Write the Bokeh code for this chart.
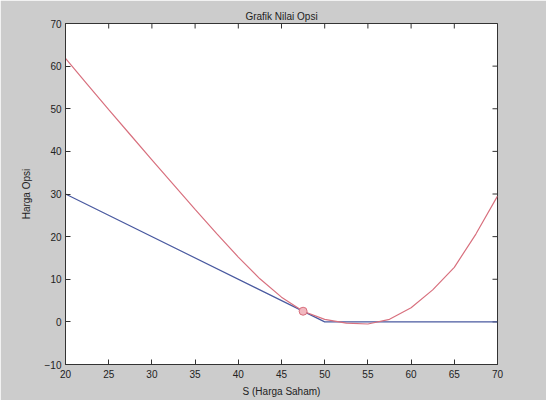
import math
from bokeh.plotting import figure
from bokeh.models import FixedTicker, Range1d
from bokeh.embed import file_html
from bokeh.resources import INLINE

# Data
s_payoff = [20, 50, 70]
v_payoff = [30, 0, 0]

s_value = [20, 22.5, 25, 27.5, 30, 32.5, 35, 37.5, 40, 42.5, 45, 47.5,
           50, 52.5, 55, 57.5, 60, 62.5, 65, 67.5, 70]
v_value = [61.8, 55.8, 49.8, 43.9, 38.0, 32.2, 26.4, 20.7, 15.2, 10.1, 5.8, 2.5,
           0.6, -0.3, -0.5, 0.6, 3.3, 7.5, 12.8, 20.6, 29.5]

s_point = [47.5]
v_point = [2.5]

x_ticks = [20, 25, 30, 35, 40, 45, 50, 55, 60, 65, 70]
y_ticks = [-10, 0, 10, 20, 30, 40, 50, 60, 70]

FONT = "Liberation Sans"
INK = "#222222"

p = figure(width=546, height=400, output_backend="svg", toolbar_location=None,
           x_range=Range1d(20, 70), y_range=Range1d(-10, 70),
           min_border_left=65, min_border_right=49, min_border_top=23, min_border_bottom=36,
           title="Grafik Nilai Opsi")
p.background_fill_color = "white"
p.border_fill_color = "#cccccc"
p.outline_line_color = "#333333"
p.outline_line_width = 1
p.grid.visible = False

p.title.align = "center"
p.title.text_font = FONT
p.title.text_font_size = "10px"
p.title.text_font_style = "normal"
p.title.text_color = INK
p.title.standoff = 3

for ax in (p.xaxis[0], p.yaxis[0]):
    ax.major_tick_in = 5
    ax.major_tick_out = 0
    ax.minor_tick_line_color = None
    ax.major_label_text_font = FONT
    ax.major_label_text_font_size = "10px"
    ax.major_label_text_color = INK
    ax.axis_label_text_font = FONT
    ax.axis_label_text_font_size = "10px"
    ax.axis_label_text_font_style = "normal"
    ax.axis_label_text_color = INK
    ax.axis_line_color = "#333333"
    ax.major_tick_line_color = "#333333"

p.xaxis[0].ticker = FixedTicker(ticks=x_ticks)
p.yaxis[0].ticker = FixedTicker(ticks=y_ticks)
p.xaxis[0].axis_label = "S (Harga Saham)"
p.yaxis[0].axis_label = "Harga Opsi"
p.xaxis[0].major_label_standoff = 5
p.xaxis[0].axis_label_standoff = 5
p.yaxis[0].major_label_standoff = 4
p.yaxis[0].axis_label_standoff = 10

# inside tick marks on the top and right edges of the box (clipped to frame)
p.scatter(x_ticks, [y_ticks[-1]] * len(x_ticks), marker="dash", angle=math.pi / 2,
          size=10, line_color="#333333", line_width=1)
p.scatter([x_ticks[-1]] * len(y_ticks), y_ticks, marker="dash",
          size=10, line_color="#333333", line_width=1)

p.line(s_payoff, v_payoff, line_color="#4a5aa0", line_width=1.2)
p.line(s_value, v_value, line_color="#d8707e", line_width=1.2)
p.scatter(s_point, v_point, marker="circle", size=8, fill_color="#f2b8c0",
          line_color="#d8707e", line_width=1)

open("out.html", "w").write(file_html(p, INLINE))
